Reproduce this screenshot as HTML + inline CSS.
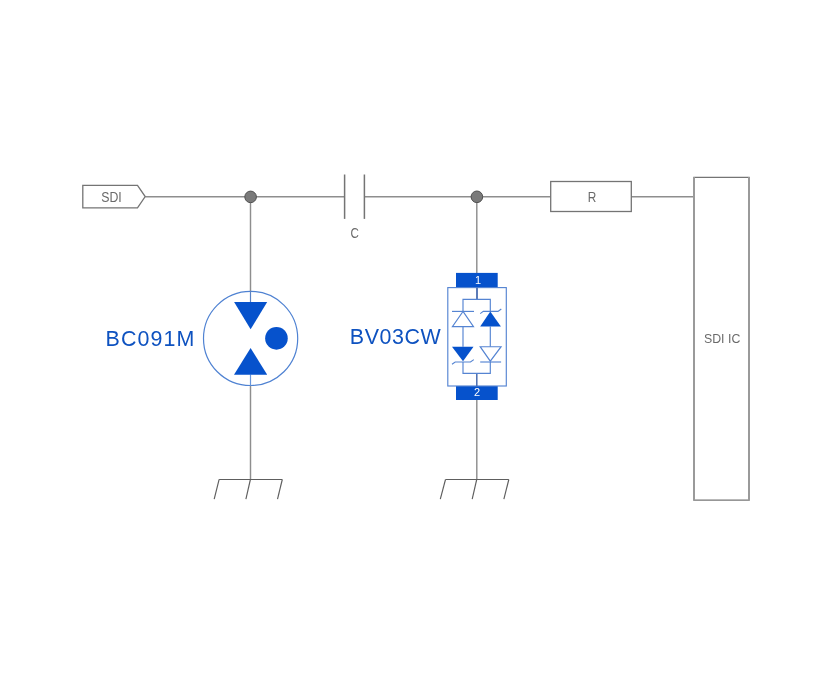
<!DOCTYPE html>
<html>
<head>
<meta charset="utf-8">
<style>
html,body{margin:0;padding:0;background:#fff;width:832px;height:675px;overflow:hidden;}
svg{display:block;position:absolute;left:0;top:0;will-change:transform;}
text{font-family:"Liberation Sans",sans-serif;}
</style>
</head>
<body>
<svg width="832" height="675" viewBox="0 0 832 675">
<rect width="832" height="675" fill="#fff"/>
<g fill="none" stroke="#8e8e8e" stroke-width="1.45">
  <!-- main wire -->
  <line x1="145.2" y1="196.7" x2="344.6" y2="196.7"/>
  <line x1="364.4" y1="196.7" x2="550.6" y2="196.7"/>
  <line x1="631.3" y1="196.7" x2="694" y2="196.7"/>
  <!-- vertical wires -->
  <line x1="250.5" y1="197" x2="250.5" y2="291"/>
  <line x1="250.5" y1="385.6" x2="250.5" y2="479.5"/>
  <line x1="476.8" y1="197" x2="476.8" y2="273"/>
  <line x1="476.8" y1="399.7" x2="476.8" y2="479.5"/>
</g>
<g fill="none" stroke="#747474" stroke-width="1.3">
  <!-- SDI tag -->
  <path d="M82.8 185.4 H137.5 L145.2 196.6 L137.5 207.8 H82.8 Z"/>
  <!-- capacitor -->
  <line x1="344.6" y1="174.5" x2="344.6" y2="218.9" stroke-width="1.5"/>
  <line x1="364.4" y1="174.5" x2="364.4" y2="218.9" stroke-width="1.5"/>
  <!-- resistor -->
  <rect x="550.7" y="181.5" width="80.6" height="30"/>
  <!-- IC -->
  <line x1="693.3" y1="177.4" x2="749.7" y2="177.4"/>
  <line x1="693.3" y1="500.1" x2="749.7" y2="500.1"/>
  <line x1="694" y1="177" x2="694" y2="500.6" stroke="#9a9a9a" stroke-width="2"/>
  <line x1="749" y1="177" x2="749" y2="500.6" stroke="#9a9a9a" stroke-width="2"/>
  <!-- grounds -->
  <g stroke="#5e5e5e" stroke-width="1.15">
    <line x1="219.1" y1="479.5" x2="282.3" y2="479.5"/>
    <line x1="219.1" y1="479.5" x2="214.2" y2="499.2"/>
    <line x1="250.4" y1="479.5" x2="245.9" y2="499.2"/>
    <line x1="282.3" y1="479.5" x2="277.5" y2="499.2"/>
    <line x1="445.5" y1="479.5" x2="508.8" y2="479.5"/>
    <line x1="445.5" y1="479.5" x2="440.3" y2="499.2"/>
    <line x1="476.7" y1="479.5" x2="472.2" y2="499.2"/>
    <line x1="508.8" y1="479.5" x2="503.9" y2="499.2"/>
  </g>
</g>
<!-- junctions -->
<circle cx="250.6" cy="196.9" r="5.8" fill="#7a7a7a" stroke="#505050" stroke-width="1"/>
<circle cx="476.9" cy="196.8" r="5.8" fill="#7a7a7a" stroke="#505050" stroke-width="1"/>
<!-- labels grey -->
<g fill="#6a6a6a" font-size="12.5">
  <text x="101.2" y="201.7" font-size="14.5" textLength="20.5" lengthAdjust="spacingAndGlyphs">SDI</text>
  <text transform="translate(350.5 238.2) scale(0.82 1)" font-size="14.2">C</text>
  <text transform="translate(587.7 201.6) scale(0.84 1)" font-size="14.1">R</text>
  <text x="704" y="343.4" font-size="13.7" textLength="36.3" lengthAdjust="spacingAndGlyphs">SDI IC</text>
</g>
<!-- BC091M -->
<circle cx="250.6" cy="338.4" r="47.1" fill="none" stroke="#4f82d2" stroke-width="1.2"/>
<line x1="250.5" y1="291" x2="250.5" y2="302" stroke="#5a82c4" stroke-width="1.2"/>
<line x1="250.5" y1="374.5" x2="250.5" y2="385.6" stroke="#6796dc" stroke-width="1.2"/>
<g fill="#0652cc">
  <path d="M234.1 302 L267.2 302 L250.6 329.3 Z"/>
  <path d="M250.6 347.9 L267.2 374.8 L234 374.8 Z"/>
  <circle cx="276.45" cy="338.35" r="11.3"/>
</g>
<text transform="translate(105.5 346.2) scale(0.94 1)" font-size="22.8" letter-spacing="1.2" fill="#0e52c0">BC091M</text>
<!-- BV03CW -->
<g fill="#0652cc">
  <rect x="456" y="272.9" width="41.7" height="14.8"/>
  <rect x="456" y="386" width="41.7" height="14"/>
</g>
<g fill="none" stroke="#5584d2" stroke-width="1.15">
  <rect x="447.8" y="287.6" width="58.5" height="98.4"/>
  <line x1="477" y1="287.4" x2="477" y2="299.5" stroke="#4a6db0" stroke-width="1.8"/>
  <line x1="476.8" y1="373.4" x2="476.8" y2="386" stroke="#4a6db0" stroke-width="1.5"/>
  <path d="M463 311.4 V299.35 H490.3 V311.4 M463 326.6 V346.7 M490.3 326.6 V346.7 M463 362 V373.4 H490.3 V362"/>
  <!-- top-left diode outlined up -->
  <line x1="452" y1="311.4" x2="474" y2="311.4"/>
  <path d="M463 311.4 L473.5 326.6 L452.4 326.6 Z"/>
  <!-- top-right zener filled up -->
  <path d="M480.2 313.6 L483.3 311.4 L498 311.4 L501.3 309"/>
  <!-- bottom-left zener filled down -->
  <path d="M452 364.2 L455.2 362 L470.5 362 L473.8 359.6"/>
  <!-- bottom-right outlined down -->
  <path d="M480.2 346.7 L501.1 346.7 L490.3 361.2 Z"/>
  <line x1="480.2" y1="362" x2="501.1" y2="362"/>
</g>
<g fill="#0652cc">
  <path d="M490.3 311.4 L500.9 326.6 L480.2 326.6 Z"/>
  <path d="M452 346.7 L473.5 346.7 L463 361.2 Z"/>
</g>
<g fill="#fff" font-size="11">
  <text x="478" y="284.4" text-anchor="middle">1</text>
  <text x="477" y="396.1" text-anchor="middle">2</text>
</g>
<text transform="translate(349.8 344.4) scale(0.94 1)" font-size="22.8" letter-spacing="0.6" fill="#0e52c0">BV03CW</text>
</svg>
</body>
</html>
